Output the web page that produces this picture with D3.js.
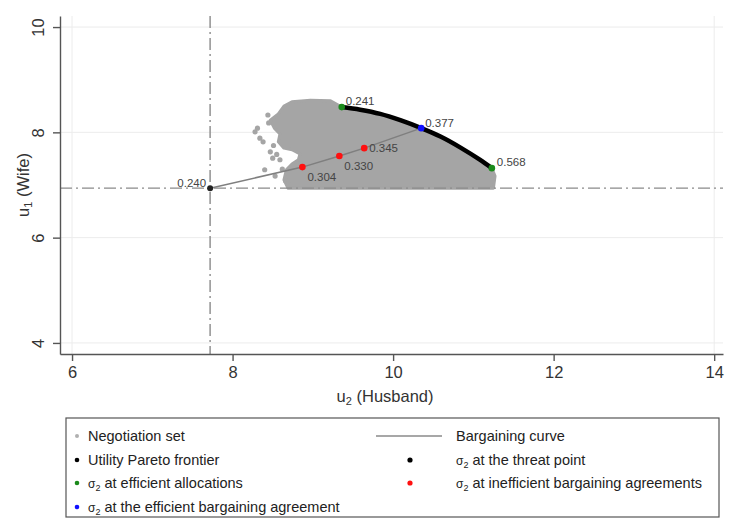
<!DOCTYPE html>
<head>
<meta charset="utf-8">
<style>
body { margin: 0; background: #fff; }
svg text { font-family: "Liberation Sans", Arial, sans-serif; fill: #333; }
.axis path, .axis line { stroke: #555; stroke-width: 1.4; }
.axis text { font-size: 16.5px; fill: #333; }
.grid line { stroke: #ececec; stroke-width: 1; }
.marklabel { font-size: 11.5px; fill: #444; }
.legend text { font-size: 14.5px; fill: #222; }
</style>
</head>
<body>
<svg width="730" height="523"></svg>
<script src="https://cdn.jsdelivr.net/npm/d3@7"></script>
<script>

// threat point (u2, u1)
const threat = {u2: 7.72, u1: 6.94, label: '0.240'}

// utility pareto frontier
const frontierU2 = [9.36, 9.59, 9.84, 10.09, 10.35, 10.59, 10.84, 11.08, 11.23]
const frontierU1 = [8.48, 8.43, 8.35, 8.23, 8.08, 7.92, 7.71, 7.48, 7.32]

// efficient allocations at the frontier ends
const efficientU2 = [9.36, 11.23]
const efficientU1 = [8.48, 7.32]
const efficientLabels = ['0.241', '0.568']

// inefficient bargaining agreements
const inefficientU2 = [8.87, 9.33, 9.64]
const inefficientU1 = [7.34, 7.55, 7.70]
const inefficientLabels = ['0.304', '0.330', '0.345']

// efficient bargaining agreement
const agreement = {u2: 10.35, u1: 8.08, label: '0.377'}

// outline of the negotiation set (after the frontier, going round)
const setEdgeU2 = [11.27, 11.25, 8.69, 8.64, 8.67, 8.74, 8.82, 8.84, 8.74, 8.64, 8.57, 8.59, 8.52, 8.47, 8.57, 8.64, 8.74, 8.97, 9.22]
const setEdgeU1 = [7.17, 6.94, 6.94, 7.10, 7.29, 7.40, 7.48, 7.59, 7.67, 7.70, 7.82, 7.97, 8.08, 8.23, 8.35, 8.50, 8.58, 8.61, 8.60]
// stray points of the negotiation set
const strayU2 = [8.28, 8.34, 8.38, 8.47, 8.50, 8.40, 8.53, 8.59, 8.44, 8.62, 8.31, 8.51, 8.66, 8.70, 8.55, 8.45]
const strayU1 = [8.01, 7.89, 7.82, 7.63, 7.51, 7.29, 7.17, 7.48, 8.33, 7.30, 8.08, 7.75, 7.08, 7.02, 7.58, 8.18]

const xTicks = [6, 8, 10, 12, 14]
const yTicks = [4, 6, 8, 10]

const svg = d3.select('svg')

const x = d3.scaleLinear().domain([5.85, 14.11]).range([60, 723])
const y = d3.scaleLinear().domain([3.79, 10.21]).range([354, 16])

// grid
const grid = svg.append('g').attr('class', 'grid')
grid.selectAll('.hy').data(yTicks).enter().append('line')
  .attr('x1', x(5.85)).attr('x2', x(14.11))
  .attr('y1', d => y(d)).attr('y2', d => y(d))
grid.selectAll('.vx').data([6, 14]).enter().append('line')
  .attr('x1', d => x(d)).attr('x2', d => x(d))
  .attr('y1', y(10.21)).attr('y2', y(3.79))

// negotiation set
const gray = '#a5a5a5'
const setPoly = frontierU2.map((d, i) => [d, frontierU1[i]])
  .concat(setEdgeU2.map((d, i) => [d, setEdgeU1[i]]))
svg.append('path')
  .attr('d', d3.line().x(d => x(d[0])).y(d => y(d[1]))(setPoly) + 'Z')
  .attr('fill', gray).attr('stroke', gray).attr('stroke-width', 3)
  .attr('stroke-linejoin', 'round')
svg.append('g').selectAll('circle').data(strayU2).enter().append('circle')
  .attr('cx', d => x(d)).attr('cy', (d, i) => y(strayU1[i]))
  .attr('r', 2.6).attr('fill', gray)

// threat point reference lines
const dash = '12,4,2,4'
svg.append('line')
  .attr('x1', x(5.85)).attr('x2', x(14.11))
  .attr('y1', y(threat.u1)).attr('y2', y(threat.u1))
  .attr('stroke', '#8a8a8a').attr('stroke-width', 1.4).attr('stroke-dasharray', dash)
svg.append('line')
  .attr('x1', x(threat.u2)).attr('x2', x(threat.u2))
  .attr('y1', y(10.21)).attr('y2', y(3.79))
  .attr('stroke', '#8a8a8a').attr('stroke-width', 1.4).attr('stroke-dasharray', dash)

// frontier
svg.append('path')
  .datum(frontierU2.map((d, i) => [d, frontierU1[i]]))
  .attr('d', d3.line().x(d => x(d[0])).y(d => y(d[1])).curve(d3.curveMonotoneX))
  .attr('fill', 'none').attr('stroke', '#000').attr('stroke-width', 4.5)

// bargaining curve
const bargain = [[threat.u2, threat.u1]]
  .concat(inefficientU2.map((d, i) => [d, inefficientU1[i]]))
  .concat([[agreement.u2, agreement.u1]])
svg.append('path')
  .datum(bargain)
  .attr('d', d3.line().x(d => x(d[0])).y(d => y(d[1])))
  .attr('fill', 'none').attr('stroke', '#7f7f7f').attr('stroke-width', 1.5)

// markers
function dot(u2, u1, color, r) {
  svg.append('circle').attr('cx', x(u2)).attr('cy', y(u1)).attr('r', r).attr('fill', color)
}
function label(u2, u1, txt, dx, dy, anchor) {
  svg.append('text').attr('class', 'marklabel')
    .attr('x', x(u2) + dx).attr('y', y(u1) + dy)
    .attr('text-anchor', anchor || 'start')
    .text(txt)
}

dot(threat.u2, threat.u1, '#222', 3)
label(threat.u2, threat.u1, threat.label, -4, -1, 'end')

efficientU2.forEach((d, i) => dot(d, efficientU1[i], '#1b8a1b', 3.3))
label(efficientU2[0], efficientU1[0], efficientLabels[0], 4, -2)
label(efficientU2[1], efficientU1[1], efficientLabels[1], 5, -2)

inefficientU2.forEach((d, i) => dot(d, inefficientU1[i], '#ff1010', 3.3))
label(inefficientU2[0], inefficientU1[0], inefficientLabels[0], 5, 14)
label(inefficientU2[1], inefficientU1[1], inefficientLabels[1], 5, 14)
label(inefficientU2[2], inefficientU1[2], inefficientLabels[2], 5, 4)

dot(agreement.u2, agreement.u1, '#1010ff', 3.3)
label(agreement.u2, agreement.u1, agreement.label, 4, -1)

// axes
svg.append('g').attr('class', 'axis')
  .attr('transform', `translate(0, ${y(3.79)})`)
  .call(d3.axisBottom(x).tickValues(xTicks).tickFormat(d3.format('d')).tickSizeOuter(0).tickSizeInner(7).tickPadding(5))
  .selectAll('text').attr('dy', '0.71em')

const yAxis = svg.append('g').attr('class', 'axis')
  .attr('transform', `translate(${x(5.85)}, 0)`)
  .call(d3.axisLeft(y).tickValues(yTicks).tickFormat(d3.format('d')).tickSizeOuter(0).tickSizeInner(7))
yAxis.selectAll('text')
  .attr('transform', 'rotate(-90)')
  .attr('x', 0).attr('y', -16).attr('dy', 0)
  .attr('text-anchor', 'middle')

// axis titles
const xt = svg.append('text').attr('x', x(9.9)).attr('y', 402)
  .attr('text-anchor', 'middle').style('font-size', '16.5px')
xt.append('tspan').text('u')
xt.append('tspan').text('2').style('font-size', '11px').attr('dy', 3)
xt.append('tspan').text(' (Husband)').attr('dy', -3)

const yt = svg.append('text')
  .attr('transform', `translate(29, ${(y(10.21) + y(3.79)) / 2}) rotate(-90)`)
  .attr('text-anchor', 'middle').style('font-size', '16.5px')
yt.append('tspan').text('u')
yt.append('tspan').text('1').style('font-size', '11px').attr('dy', 3)
yt.append('tspan').text(' (Wife)').attr('dy', -3)

// legend
const legend = svg.append('g').attr('class', 'legend')
legend.append('rect')
  .attr('x', 66).attr('y', 418).attr('width', 653).attr('height', 99)
  .attr('fill', '#fff').attr('stroke', '#555').attr('stroke-width', 1.2)

const legendItems = [
  {col: 0, row: 0, kind: 'dot', color: '#b0b0b0', r: 2, text: 'Negotiation set'},
  {col: 1, row: 0, kind: 'line', color: '#8a8a8a', text: 'Bargaining curve'},
  {col: 0, row: 1, kind: 'dot', color: '#000', r: 2.3, text: 'Utility Pareto frontier'},
  {col: 1, row: 1, kind: 'dot', color: '#000', r: 2.6, sigma: true, text: ' at the threat point'},
  {col: 0, row: 2, kind: 'dot', color: '#1b8a1b', r: 2.3, sigma: true, text: ' at efficient allocations'},
  {col: 1, row: 2, kind: 'dot', color: '#ff1010', r: 2.6, sigma: true, text: ' at inefficient bargaining agreements'},
  {col: 0, row: 3, kind: 'dot', color: '#1010ff', r: 2.3, sigma: true, text: ' at the efficient bargaining agreement'}
]
const colMarker = [77, 410]
const colText = [88, 456]
const rowY = [436, 460, 483, 507]

legendItems.forEach(it => {
  const cy = rowY[it.row]
  if (it.kind === 'line') {
    legend.append('line').attr('x1', 376).attr('x2', 442).attr('y1', cy).attr('y2', cy)
      .attr('stroke', it.color).attr('stroke-width', 1.5)
  } else {
    legend.append('circle').attr('cx', colMarker[it.col]).attr('cy', cy).attr('r', it.r).attr('fill', it.color)
  }
  const t = legend.append('text').attr('x', colText[it.col]).attr('y', cy + 5)
  if (it.sigma) {
    t.append('tspan').text('σ').style('font-size', '12px')
    t.append('tspan').text('2').style('font-size', '9px').attr('dy', 3)
    t.append('tspan').text(it.text).attr('dy', -3)
  } else {
    t.text(it.text)
  }
})

</script>
</body>
